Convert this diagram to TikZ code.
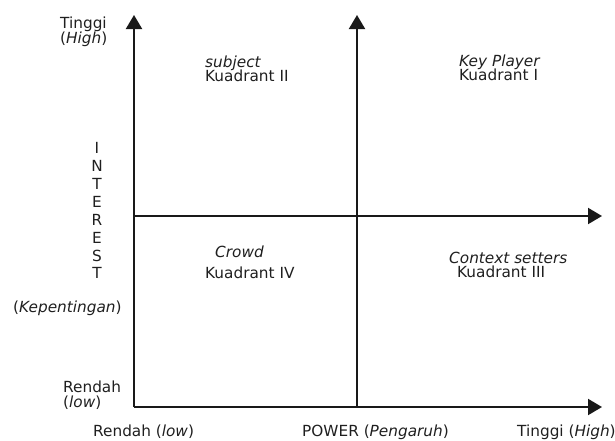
\documentclass[tikz,border=0pt]{standalone}
\usepackage{fontspec}
\setmainfont{DejaVu Sans}
\usetikzlibrary{arrows.meta}
\begin{document}
\begin{tikzpicture}[x=1pt,y=-1pt,
  lbl/.style={inner sep=0pt, anchor=base west, font=\fontsize{15.3}{16}\selectfont, text=black!88},
  letter/.style={inner sep=0pt, anchor=base, font=\fontsize{15.3}{16}\selectfont, text=black!88},
  axis/.style={line width=2pt, black!90, -{Triangle[length=14pt,width=16pt]}}]
\useasboundingbox (0,0) rectangle (615,440);
% coordinates
\coordinate (O) at (134,407);
\coordinate (Ltop) at (134,15);
\coordinate (Mbot) at (357,407);
\coordinate (Mtop) at (357,15);
\coordinate (Hl) at (134,216);
\coordinate (Hr) at (602,216);
\coordinate (Br) at (602,407);
% axes
\draw[axis] (O) -- (Ltop);
\draw[axis] (Mbot) -- (Mtop);
\draw[axis] (Hl) -- (Hr);
\draw[axis] (O) -- (Br);
% top-left labels
\node[lbl] (th1) at (60,28) {Tinggi};
\node[lbl] (th2) at (60,43) {(\textit{High})};
% quadrant labels
\node[lbl] (q2a) at (205,67) {\textit{subject}};
\node[lbl] (q2b) at (205,81) {Kuadrant II};
\node[lbl] (q1a) at (459,66) {\textit{Key Player}};
\node[lbl] (q1b) at (459,80) {Kuadrant I};
\node[lbl] (q4a) at (215,257) {\textit{Crowd}};
\node[lbl] (q4b) at (205,278) {Kuadrant IV};
\node[lbl] (q3a) at (449,263) {\textit{Context setters}};
\node[lbl] (q3b) at (457,277) {Kuadrant III};
% INTEREST vertical
\node[letter] (i1) at (97,153) {I};
\node[letter] (i2) at (97,171) {N};
\node[letter] (i3) at (97,189) {T};
\node[letter] (i4) at (97,207) {E};
\node[letter] (i5) at (97,225) {R};
\node[letter] (i6) at (97,243) {E};
\node[letter] (i7) at (97,261) {S};
\node[letter] (i8) at (97,278) {T};
\node[lbl] (kep) at (13,312) {(\textit{Kepentingan})};
% low labels
\node[lbl] (rl1) at (63,392) {Rendah};
\node[lbl] (rl2) at (63,407) {(\textit{low})};
% bottom labels
\node[lbl] (b1) at (93,436) {Rendah (\textit{low})};
\node[lbl] (b2) at (302,436) {POWER (\textit{Pengaruh})};
\node[lbl] (b3) at (517,436) {Tinggi (\textit{High})};
\end{tikzpicture}
\end{document}
